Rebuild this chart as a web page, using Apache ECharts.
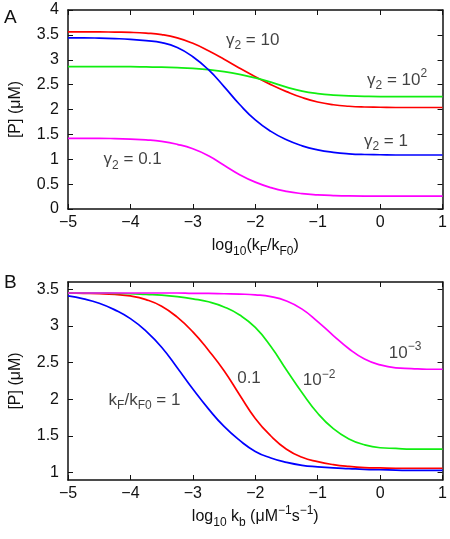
<!DOCTYPE html>
<html>
<head>
<meta charset="utf-8">
<script src="https://cdn.jsdelivr.net/npm/echarts@6/dist/echarts.min.js"></script>
<style>
  html, body { margin: 0; padding: 0; background: #fff; }
  #main { width: 450px; height: 539px; }
</style>
</head>
<body>
<div id="main"></div>
<script>
// shared x grid (log10 values)
var xs = [-5, -4.75, -4.5, -4.25, -4, -3.75, -3.5, -3.25, -3, -2.75, -2.5, -2.25, -2,
          -1.75, -1.5, -1.25, -1, -0.75, -0.5, -0.25, 0, 0.25, 0.5, 0.75, 1];

// panel A: [P] vs log10(kF/kF0), one curve per gamma2
var aGamma10  = [3.56, 3.56, 3.56, 3.555, 3.55, 3.535, 3.505, 3.44, 3.33, 3.18, 3.01, 2.83, 2.66,
                 2.50, 2.36, 2.24, 2.15, 2.095, 2.065, 2.05, 2.045, 2.04, 2.04, 2.04, 2.04];
var aGamma100 = [2.86, 2.86, 2.86, 2.86, 2.86, 2.855, 2.85, 2.84, 2.825, 2.80, 2.76, 2.705, 2.635,
                 2.55, 2.45, 2.37, 2.32, 2.29, 2.275, 2.265, 2.26, 2.26, 2.26, 2.26, 2.26];
var aGamma1   = [3.44, 3.44, 3.435, 3.425, 3.41, 3.385, 3.345, 3.245, 3.06, 2.80, 2.46, 2.10, 1.79,
                 1.56, 1.39, 1.27, 1.19, 1.14, 1.11, 1.095, 1.09, 1.085, 1.085, 1.085, 1.085];
var aGamma01  = [1.42, 1.42, 1.42, 1.415, 1.405, 1.39, 1.36, 1.30, 1.21, 1.07, 0.88, 0.69, 0.54,
                 0.43, 0.355, 0.31, 0.285, 0.27, 0.262, 0.26, 0.26, 0.26, 0.26, 0.26, 0.26];

// panel B: [P] vs log10 kb, one curve per kF/kF0
var bK1    = [3.41, 3.37, 3.31, 3.22, 3.10, 2.93, 2.71, 2.43, 2.14, 1.87, 1.63, 1.44, 1.29,
              1.20, 1.14, 1.10, 1.08, 1.065, 1.055, 1.045, 1.04, 1.035, 1.03, 1.03, 1.03];
var bK01   = [3.45, 3.445, 3.44, 3.43, 3.41, 3.36, 3.27, 3.12, 2.92, 2.67, 2.39, 2.06, 1.74,
              1.50, 1.32, 1.21, 1.15, 1.11, 1.085, 1.07, 1.065, 1.06, 1.06, 1.06, 1.06];
var bK001  = [3.45, 3.45, 3.45, 3.445, 3.44, 3.43, 3.42, 3.40, 3.37, 3.33, 3.26, 3.15, 2.98,
              2.72, 2.40, 2.09, 1.81, 1.60, 1.46, 1.38, 1.34, 1.33, 1.32, 1.32, 1.32];
var bK0001 = [3.45, 3.45, 3.45, 3.45, 3.45, 3.45, 3.45, 3.45, 3.445, 3.445, 3.44, 3.435, 3.425,
              3.40, 3.34, 3.23, 3.06, 2.87, 2.69, 2.55, 2.47, 2.43, 2.42, 2.41, 2.41];

var yTicksA = [0, 0.5, 1, 1.5, 2, 2.5, 3, 3.5, 4];
var yTicksB = [1, 1.5, 2, 2.5, 3, 3.5];

// curve annotations: [x, y, text]
var notesA = [
  [-2.47, 3.40, 'γ{sub|2} = 10'],
  [-0.21, 2.59, 'γ{sub|2} = 10{sup|2}'],
  [-0.26, 1.37, 'γ{sub|2} = 1'],
  [-4.43, 1.00, 'γ{sub|2} = 0.1']
];
var notesB = [
  [-4.35, 1.99, 'k{sub|F}/k{sub|F0} = 1'],
  [-2.29, 2.29, '0.1'],
  [-1.24, 2.26, '10{sup|−2}'],
  [0.14, 2.63, '10{sup|−3}']
];

var font = 'Liberation Sans, Arial, Helvetica, sans-serif';
var ink = '#111';
var rich = {
  sub: { fontSize: 12, lineHeight: 12, verticalAlign: 'bottom', fontFamily: font, color: ink },
  sup: { fontSize: 12, lineHeight: 12, verticalAlign: 'top', fontFamily: font, color: ink }
};

function pairs(ys) {
  return xs.map(function (x, i) { return [x, ys[i]]; });
}

function minus(v) {
  return String(v).replace('-', '−');
}

function xAxisPair(grid, name) {
  return [{
    type: 'value', gridIndex: grid, min: -5, max: 1, interval: 1,
    axisLine: { onZero: false, lineStyle: { color: ink, width: 1.5 } },
    axisTick: { inside: true, length: 5, lineStyle: { color: ink } },
    axisLabel: { color: ink, fontSize: 16, fontFamily: font, margin: 6, formatter: minus },
    splitLine: { show: false },
    name: name, nameLocation: 'middle', nameGap: 25,
    nameTextStyle: { color: ink, fontSize: 16, fontFamily: font, lineHeight: 24, rich: rich }
  }, {
    type: 'value', gridIndex: grid, position: 'top', min: -5, max: 1, interval: 1,
    axisLine: { onZero: false, lineStyle: { color: ink, width: 1.5 } },
    axisTick: { inside: true, length: 5, lineStyle: { color: ink } },
    axisLabel: { show: false }, splitLine: { show: false }
  }];
}

function yAxisPair(grid, min, max, ticks) {
  return [{
    type: 'value', gridIndex: grid, position: 'left', min: min, max: max,
    axisLine: { show: true, onZero: false, lineStyle: { color: ink, width: 1.5 } },
    axisTick: { show: true, inside: true, length: 5, customValues: ticks, lineStyle: { color: ink } },
    axisLabel: { color: ink, fontSize: 16, fontFamily: font, margin: 9, customValues: ticks },
    splitLine: { show: false },
    name: '[P] (μM)', nameLocation: 'middle', nameGap: 44,
    nameTextStyle: { color: ink, fontSize: 16, fontFamily: font }
  }, {
    type: 'value', gridIndex: grid, position: 'right', min: min, max: max,
    axisLine: { show: true, onZero: false, lineStyle: { color: ink, width: 1.5 } },
    axisTick: { show: true, inside: true, length: 5, customValues: ticks, lineStyle: { color: ink } },
    axisLabel: { show: false }, splitLine: { show: false }
  }];
}

function curve(xi, yi, ys, color) {
  return {
    type: 'line', xAxisIndex: xi, yAxisIndex: yi, data: pairs(ys),
    smooth: 0.5, showSymbol: false, silent: true,
    lineStyle: { color: color, width: 1.7 }
  };
}

function notes(xi, yi, list) {
  return {
    type: 'scatter', xAxisIndex: xi, yAxisIndex: yi, symbolSize: 0, silent: true,
    data: list.map(function (n) { return { value: [n[0], n[1]], name: n[2] }; }),
    label: {
      show: true, position: 'right', distance: 0,
      color: ink, fontSize: 17, fontFamily: font, lineHeight: 24, rich: rich,
      formatter: function (p) { return p.name; }
    }
  };
}

var chart = echarts.init(document.getElementById('main'));
var xa = xAxisPair(0, 'log{sub|10}(k{sub|F}/k{sub|F0})');
var xb = xAxisPair(1, 'log{sub|10} k{sub|b} (μM{sup|−1}s{sup|−1})');
var ya = yAxisPair(0, 0, 4, yTicksA);
var yb = yAxisPair(1, 0.9, 3.6, yTicksB);

var option = {
  animation: false,
  backgroundColor: '#fff',
  title: [
    { text: 'A', left: -1, top: 3, textStyle: { color: ink, fontSize: 19, fontWeight: 'normal', fontFamily: font } },
    { text: 'B', left: -1, top: 268, textStyle: { color: ink, fontSize: 19, fontWeight: 'normal', fontFamily: font } }
  ],
  grid: [
    { left: 67, top: 10, width: 377, height: 199 },
    { left: 67, top: 282, width: 377, height: 198 }
  ],
  xAxis: xa.concat(xb),
  yAxis: ya.concat(yb),
  series: [
    curve(0, 0, aGamma10, '#ff0000'),
    curve(0, 0, aGamma100, '#11ee11'),
    curve(0, 0, aGamma1, '#0000ff'),
    curve(0, 0, aGamma01, '#ff00ff'),
    notes(0, 0, notesA),
    curve(2, 2, bK1, '#0000ff'),
    curve(2, 2, bK01, '#ff0000'),
    curve(2, 2, bK001, '#11ee11'),
    curve(2, 2, bK0001, '#ff00ff'),
    notes(2, 2, notesB)
  ]
};
chart.setOption(option);
</script>
</body>
</html>
